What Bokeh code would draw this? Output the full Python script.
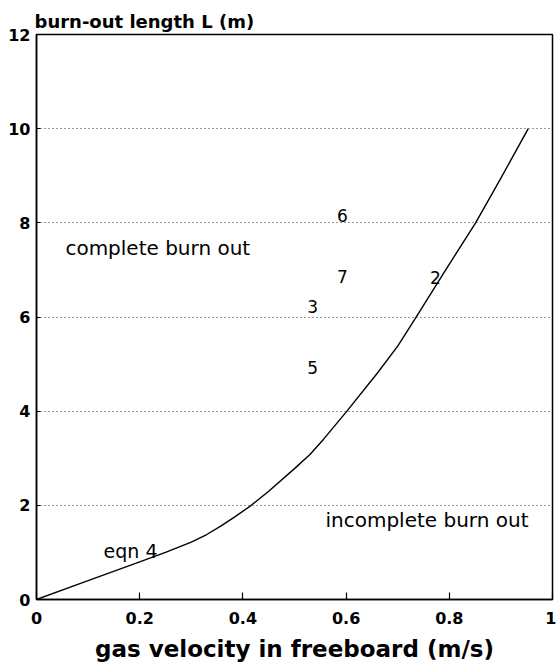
from bokeh.plotting import figure
from bokeh.models import Label, FixedTicker, Range1d
from bokeh.embed import file_html
from bokeh.resources import INLINE

# curve "eqn 4"
gas_velocity = [0, 0.1, 0.2, 0.25, 0.3, 0.33, 0.357, 0.385, 0.415, 0.45, 0.5, 0.53, 0.556,
                0.6, 0.66, 0.7, 0.733, 0.79, 0.851, 0.9, 0.953]
burnout_length = [0, 0.4, 0.8, 1.0, 1.22, 1.38, 1.56, 1.76, 1.99, 2.3, 2.78, 3.08, 3.4,
                  3.98, 4.8, 5.38, 5.95, 6.95, 8.0, 8.95, 10.0]

# numbered experiments
point_labels = ["6", "7", "3", "5", "2"]
point_x = [0.593, 0.593, 0.535, 0.535, 0.773]
point_y = [8.15, 6.86, 6.22, 4.93, 6.84]

x_ticks = [0, 0.2, 0.4, 0.6, 0.8, 1]
x_tick_labels = ["0", "0.2", "0.4", "0.6", "0.8", "1"]
y_ticks = [0, 2, 4, 6, 8, 10, 12]

p = figure(width=556, height=664, x_range=Range1d(0, 1), y_range=Range1d(0, 12),
           output_backend="svg", toolbar_location=None,
           min_border_left=36, min_border_right=4, min_border_top=34, min_border_bottom=65)

p.background_fill_color = "white"
p.border_fill_color = "white"
p.outline_line_color = "black"
p.outline_line_width = 1.5
p.outline_line_alpha = 1.0

p.title.text = "burn-out length L (m)"
p.title.align = "left"
p.title.text_font = "DejaVu Sans"
p.title.text_font_size = "18px"
p.title.text_font_style = "bold"
p.title.text_color = "black"
p.title.standoff = 6
p.title.offset = -2

p.xaxis.ticker = FixedTicker(ticks=x_ticks)
p.xaxis.major_label_overrides = {t: l for t, l in zip(x_ticks, x_tick_labels)}
p.yaxis.ticker = FixedTicker(ticks=y_ticks)

for ax in (p.xaxis[0], p.yaxis[0]):
    ax.axis_line_color = "black"
    ax.axis_line_width = 1.5
    ax.major_tick_line_color = "black"
    ax.major_tick_line_width = 1.2
    ax.major_tick_out = 0
    ax.minor_tick_line_color = None
    ax.major_label_text_font = "DejaVu Sans"
    ax.major_label_text_font_style = "bold"
    ax.major_label_text_font_size = "16px"
    ax.major_label_text_color = "black"

p.xaxis.major_tick_in = 7
p.yaxis.major_tick_in = 4
p.xaxis.major_label_standoff = 12
p.yaxis.major_label_standoff = 6
p.xaxis.axis_label = "gas velocity in freeboard (m/s)"
p.xaxis.axis_label_text_font = "DejaVu Sans"
p.xaxis.axis_label_text_font_style = "bold"
p.xaxis.axis_label_text_font_size = "23px"
p.xaxis.axis_label_standoff = 9
p.xaxis.axis_label_text_color = "black"

p.xgrid.visible = False
p.ygrid.grid_line_color = "#333333"
p.ygrid.grid_line_dash = "1 3"
p.ygrid.grid_line_width = 1

p.line(gas_velocity, burnout_length, line_color="black", line_width=1.4)

for t, xx, yy in zip(point_labels, point_x, point_y):
    p.add_layout(Label(x=xx, y=yy, text=t, text_font="DejaVu Sans", text_font_size="17px",
                       text_align="center", text_baseline="middle", text_color="black"))

p.add_layout(Label(x=0.056, y=7.47, text="complete burn out", text_font="DejaVu Sans",
                   text_font_size="20px", text_align="left", text_baseline="middle", text_color="black"))
p.add_layout(Label(x=0.56, y=1.68, text="incomplete burn out", text_font="DejaVu Sans",
                   text_font_size="20px", text_align="left", text_baseline="middle", text_color="black"))
p.add_layout(Label(x=0.13, y=1.04, text="eqn 4", text_font="DejaVu Sans",
                   text_font_size="19px", text_align="left", text_baseline="middle", text_color="black"))

open("out.html", "w").write(file_html(p, INLINE))
